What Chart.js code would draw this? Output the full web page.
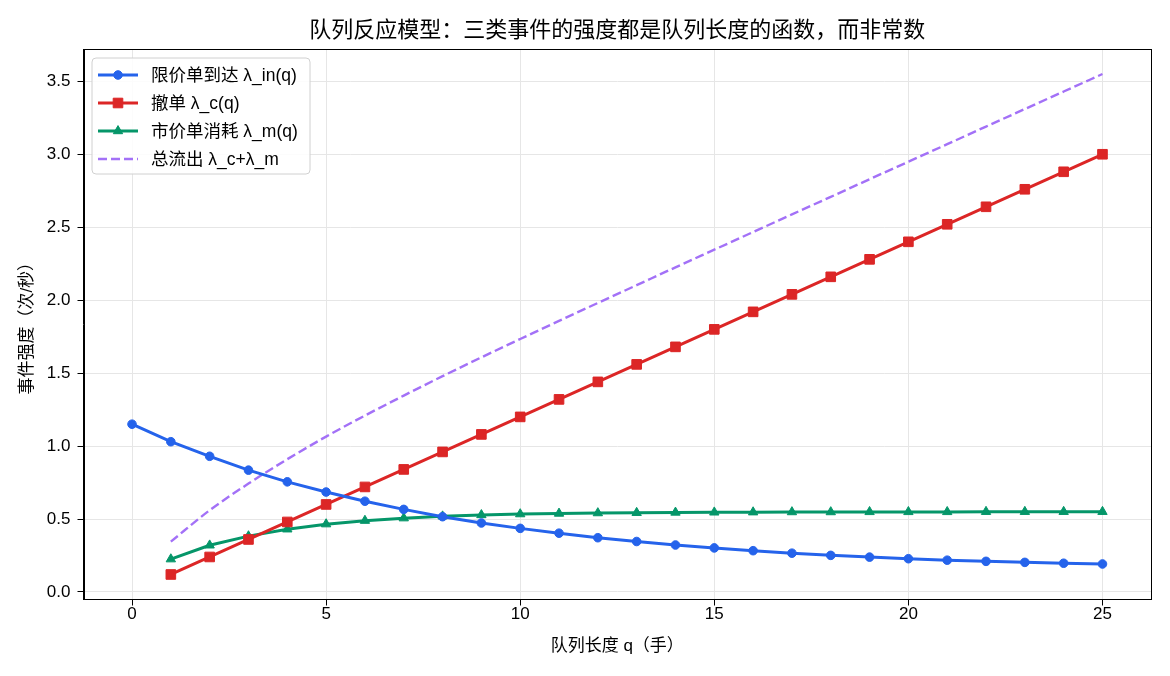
<!DOCTYPE html>
<html><head><meta charset="utf-8">
<script src="https://cdn.jsdelivr.net/npm/chart.js@4.4.0/dist/chart.umd.min.js"></script>
<style>html,body{margin:0;padding:0;background:#fff;}</style>
</head><body>
<canvas id="c" width="1170" height="676" style="display:block;width:1170px;height:676px"></canvas>
<script>
const FONT = "'Liberation Sans', 'Noto Sans CJK SC', sans-serif";
const chartTitle = '队列反应模型：三类事件的强度都是队列长度的函数，而非常数';
const xAxisTitle = '队列长度 q（手）';
const yAxisTitle = '事件强度（次/秒）';
const seriesLabels = ['限价单到达 λ_in(q)', '撤单 λ_c(q)', '市价单消耗 λ_m(q)', '总流出 λ_c+λ_m'];

const qIn  = [0,1,2,3,4,5,6,7,8,9,10,11,12,13,14,15,16,17,18,19,20,21,22,23,24,25];
const qOut = [1,2,3,4,5,6,7,8,9,10,11,12,13,14,15,16,17,18,19,20,21,22,23,24,25];

const lambdaIn = [1.15,1.03,0.93,0.835,0.755,0.685,0.622,0.566,0.516,0.473,0.436,0.403,0.372,0.346,0.322,0.302,0.283,0.266,0.251,0.239,0.228,0.218,0.21,0.203,0.197,0.192];
const lambdaC  = [0.12,0.24,0.36,0.48,0.60,0.72,0.84,0.96,1.08,1.20,1.32,1.44,1.56,1.68,1.80,1.92,2.04,2.16,2.28,2.40,2.52,2.64,2.76,2.88,3.00];
const lambdaM  = [0.225,0.32,0.383,0.43,0.465,0.489,0.506,0.519,0.528,0.534,0.538,0.541,0.543,0.545,0.546,0.547,0.548,0.548,0.549,0.549,0.549,0.55,0.55,0.55,0.55];
const lambdaTotal = [0.345,0.56,0.743,0.91,1.065,1.209,1.346,1.479,1.608,1.734,1.858,1.981,2.103,2.225,2.346,2.467,2.588,2.708,2.829,2.949,3.069,3.19,3.31,3.43,3.55];

const xTicks = [0,5,10,15,20,25];
const yTicks = [0,0.5,1.0,1.5,2.0,2.5,3.0,3.5];

const pts = (xs, ys) => xs.map((x,i)=>({x:x, y:ys[i]}));

const framePlugin = {
  id:'frame',
  beforeDatasetsDraw(chart){
    const a = chart.chartArea, ctx = chart.ctx;
    ctx.save();
    ctx.strokeStyle = '#000'; ctx.lineWidth = 1;
    ctx.strokeRect(Math.round(a.left)+0.5, Math.round(a.top)+0.5, Math.round(a.right-a.left)-1, Math.round(a.bottom-a.top)-1);
    ctx.restore();
  }
};

const titlePlugin = {
  id:'topTitle',
  afterDraw(chart){
    const a = chart.chartArea, ctx = chart.ctx;
    ctx.save();
    ctx.font = "22px " + FONT;
    ctx.fillStyle = '#000';
    ctx.textAlign = 'center'; ctx.textBaseline = 'middle';
    ctx.fillText(chartTitle, (a.left+a.right)/2, 31);
    ctx.restore();
  }
};

const legendPlugin = {
  id:'inLegend',
  afterDraw(chart){
    const ctx = chart.ctx;
    const x0 = 92, y0 = 58, w = 218, h = 116, r = 4;
    ctx.save();
    ctx.beginPath();
    ctx.moveTo(x0+r,y0); ctx.lineTo(x0+w-r,y0); ctx.arcTo(x0+w,y0,x0+w,y0+r,r);
    ctx.lineTo(x0+w,y0+h-r); ctx.arcTo(x0+w,y0+h,x0+w-r,y0+h,r);
    ctx.lineTo(x0+r,y0+h); ctx.arcTo(x0,y0+h,x0,y0+h-r,r);
    ctx.lineTo(x0,y0+r); ctx.arcTo(x0,y0,x0+r,y0,r); ctx.closePath();
    ctx.fillStyle = 'rgba(255,255,255,0.85)'; ctx.fill();
    ctx.strokeStyle = '#d0d0d0'; ctx.lineWidth = 1; ctx.stroke();
    chart.data.datasets.forEach((ds,i)=>{
      const y = 75 + i*28;
      ctx.save();
      ctx.strokeStyle = ds.borderColor; ctx.lineWidth = ds.borderWidth;
      ctx.setLineDash(ds.borderDash || []);
      ctx.beginPath(); ctx.moveTo(98,y); ctx.lineTo(138,y); ctx.stroke();
      ctx.restore();
      if (ds.pointRadius > 0) {
        ctx.save();
        ctx.fillStyle = ds.pointBackgroundColor; ctx.strokeStyle = ds.pointBorderColor; ctx.lineWidth = 1;
        Chart.helpers.drawPoint(ctx, {pointStyle: ds.pointStyle, rotation:0, radius: ds.pointRadius, borderWidth:1}, 118, y);
        ctx.restore();
      }
      ctx.font = "17.5px " + FONT; ctx.fillStyle = '#000';
      ctx.textAlign = 'left'; ctx.textBaseline = 'middle';
      ctx.fillText(ds.label, 151, y+1);
    });
    ctx.restore();
  }
};

const mk = (label, data, color, style, radius, extra) => Object.assign({
  label, data, borderColor: color, backgroundColor: color,
  pointBackgroundColor: color, pointBorderColor: color, pointBorderWidth: 1,
  pointStyle: style, pointRadius: radius, borderWidth: 3, tension: 0, fill:false
}, extra || {});

new Chart(document.getElementById('c'), {
  type: 'line',
  data: {
    datasets: [
      mk(seriesLabels[0], pts(qIn, lambdaIn), '#2563eb', 'circle', 4.3),
      mk(seriesLabels[1], pts(qOut, lambdaC), '#dc2626', 'rect', 6.8),
      mk(seriesLabels[2], pts(qOut, lambdaM), '#059669', 'triangle', 5.4),
      mk(seriesLabels[3], pts(qOut, lambdaTotal), '#a371f7', 'circle', 0, {borderWidth:2.4, borderDash:[9,4], cubicInterpolationMode:'monotone'})
    ]
  },
  options: {
    responsive: false, animation: false, devicePixelRatio: 1,
    layout: {padding: {top: 49, right: 19, left: 0, bottom: 0}},
    plugins: {legend: {display:false}, title: {display:false}, tooltip: {enabled:false}},
    scales: {
      x: {
        type:'linear', min:-1.25, max:26.25,
        afterBuildTicks: s => { s.ticks = xTicks.map(v=>({value:v})); },
        afterFit: s => { s.height = 76.5; },
        ticks: {font:{family:FONT,size:17}, color:'#000', padding:-1, maxRotation:0, autoSkip:false, callback: v => String(v)},
        grid: {color:'#e6e6e6', lineWidth:1, tickColor:'#000', tickLength:6, tickWidth:1},
        border: {display:true, color:'#000', width:1},
        title: {display:true, text:xAxisTitle, font:{family:FONT,size:17}, color:'#000', padding:{top:0,bottom:19}}
      },
      y: {
        type:'linear', min:-0.0515, max:3.7215,
        afterBuildTicks: s => { s.ticks = yTicks.map(v=>({value:v})); },
        afterFit: s => { s.width = 83.5; },
        ticks: {font:{family:FONT,size:17}, color:'#000', padding:7, autoSkip:false, callback: v => Number(v).toFixed(1)},
        grid: {color:'#e6e6e6', lineWidth:1, tickColor:'#000', tickLength:6, tickWidth:1},
        border: {display:true, color:'#000', width:1},
        title: {display:true, text:yAxisTitle, font:{family:FONT,size:17}, color:'#000', padding:{top:17,bottom:0}}
      }
    }
  },
  plugins: [framePlugin, titlePlugin, legendPlugin]
});
</script>
</body></html>
